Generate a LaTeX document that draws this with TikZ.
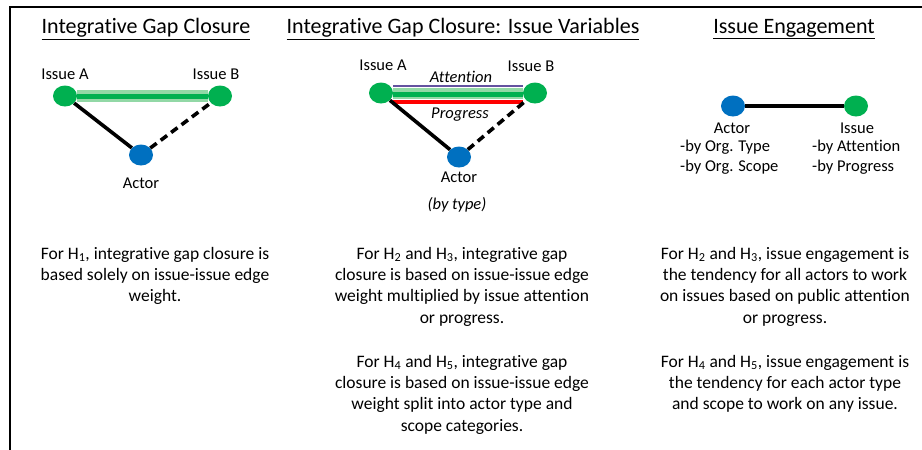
\documentclass[tikz,border=0pt]{standalone}
\usepackage{fontspec}
\setmainfont[Ligatures=NoCommon]{Carlito}
\usepackage{tikz}
\usetikzlibrary{shapes.geometric}
\definecolor{issuegreen}{RGB}{0,176,80}
\definecolor{actorblue}{RGB}{0,112,192}
\definecolor{bandgreen}{RGB}{146,216,166}
\definecolor{attnpurple}{RGB}{100,82,160}
\definecolor{progred}{RGB}{255,0,0}

\begin{document}
\begin{tikzpicture}[x=1pt,y=-1pt]
\tikzset{vertex/.style = {shape=ellipse,minimum width=24pt,minimum height=21pt,inner sep=0pt}}
\tikzset{issue/.style = {vertex,fill=issuegreen}}
\tikzset{actor/.style = {vertex,fill=actorblue}}
\tikzset{lbl/.style = {inner sep=0pt,font=\fontsize{16.5}{20}\selectfont}}
\tikzset{heading/.style = {inner sep=0pt,font=\fontsize{22}{26}\selectfont}}
\tikzset{note/.style = {align=center,inner sep=0pt,anchor=north,font=\fontsize{17.5}{21.3}\selectfont}}
\tikzset{tie/.style = {line width=3.6pt}}
\tikzset{dtie/.style = {line width=3.6pt,dash pattern=on 8pt off 5pt}}
\useasboundingbox (0,0) rectangle (922,450);
% frame
\draw[line width=2pt] (10,452) -- (10,7) -- (924,7);
% headings
\node[heading] (t1) at (146,29) {\underline{Integrative Gap Closure}};
\node[heading] (t2) at (463,29) {\underline{Integrative Gap Closure: Issue Variables}};
\node[heading] (t3) at (794,29) {\underline{Issue Engagement}};
% vertices
\node[issue] (a1) at (65,96) {};
\node[issue] (b1) at (220,96) {};
\node[actor] (c1) at (141,155) {};
\node[issue] (a2) at (381,93) {};
\node[issue] (b2) at (535,93) {};
\node[actor] (c2) at (459,157) {};
\node[actor] (c3) at (733,106) {};
\node[issue] (b3) at (856,106) {};
% labels
\node[lbl] (la1) at (65,74) {Issue A};
\node[lbl] (lb1) at (216,74) {Issue B};
\node[lbl] (lc1) at (141,183) {Actor};
\node[lbl] (la2) at (383,65) {Issue A};
\node[lbl] (lb2) at (531,66) {Issue B};
\node[lbl] (at2) at (461,77) {\itshape Attention};
\node[lbl] (pr2) at (460,115) {\itshape Progress};
\node[lbl] (lc2) at (459,177) {Actor};
\node[lbl] (ty2) at (457,205) {\itshape (by type)};
\node[lbl] (lc3) at (732,128) {Actor};
\node[lbl] (lb3) at (857,128) {Issue};
\node[lbl,anchor=west,align=left] (vc3) at (680,157) {-by Org. Type\\-by Org. Scope};
\node[lbl,anchor=west,align=left] (vb3) at (812,157) {-by Attention\\-by Progress};
%edges
\draw[line width=12pt,bandgreen] (a1) -- (b1);
\draw[line width=5pt,issuegreen] (a1) -- (b1);
\draw[tie] (a1) -- (c1);
\draw[dtie] (c1) -- (b1);
\draw[line width=11pt,bandgreen] ([yshift=-0.5pt]a2.east) -- ([yshift=-0.5pt]b2.west);
\draw[line width=2.5pt,attnpurple] ([yshift=7pt]a2.east) -- ([yshift=7pt]b2.west);
\draw[line width=5pt,issuegreen] ([yshift=-1.5pt]a2.east) -- ([yshift=-1.5pt]b2.west);
\draw[line width=4pt,progred] ([yshift=-8.5pt]a2.east) -- ([yshift=-8.5pt]b2.west);
\draw[tie] (a2) -- (c2);
\draw[dtie] (c2) -- (b2);
\draw[line width=3.8pt] (c3) -- (b3);
% notes
\node[note] (n1) at (155,247) {For H\textsubscript{1}, integrative gap closure is\\based solely on issue-issue edge\\weight.};
\node[note] (n2) at (462,247) {For H\textsubscript{2} and H\textsubscript{3}, integrative gap\\closure is based on issue-issue edge\\weight multiplied by issue attention\\or progress.};
\node[note] (n3) at (462,355) {For H\textsubscript{4} and H\textsubscript{5}, integrative gap\\closure is based on issue-issue edge\\weight split into actor type and\\scope categories.};
\node[note] (n4) at (785,247) {For H\textsubscript{2} and H\textsubscript{3}, issue engagement is\\the tendency for all actors to work\\on issues based on public attention\\or progress.};
\node[note] (n5) at (785,355) {For H\textsubscript{4} and H\textsubscript{5}, issue engagement is\\the tendency for each actor type\\and scope to work on any issue.};
\end{tikzpicture}
\end{document}
